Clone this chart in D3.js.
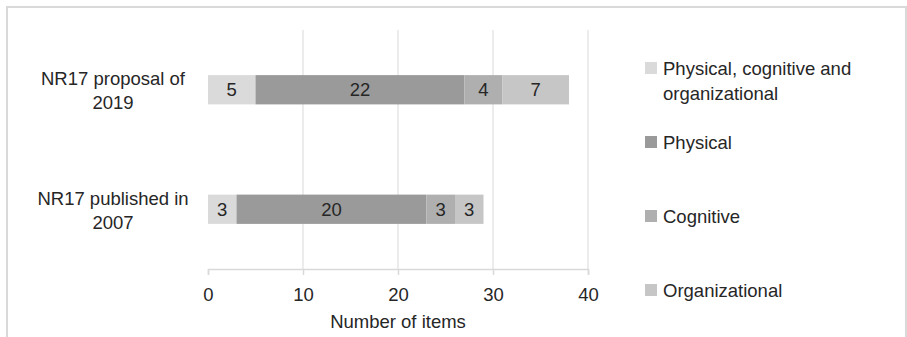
<!DOCTYPE html>
<html>
<head>
<meta charset="utf-8">
<script src="https://cdn.jsdelivr.net/npm/d3@7"></script>
<style>
  html, body { margin: 0; padding: 0; background: #fff; }
  svg { display: block; }
  text { font-family: "Liberation Sans", Arial, sans-serif; fill: #262626; }
</style>
</head>
<body>
<svg id="chart" width="907" height="337"></svg>
<script>
// ---- data ----
const categories = ["NR17 proposal of 2019", "NR17 published in 2007"];
const seriesNames = ["Physical, cognitive and organizational", "Physical", "Cognitive", "Organizational"];
const mixedValues = [5, 3];
const physicalValues = [22, 20];
const cognitiveValues = [4, 3];
const organizationalValues = [7, 3];
const xTicks = [0, 10, 20, 30, 40];
const xTitle = "Number of items";
const seriesColors = ["#dadada", "#9a9a9a", "#afafaf", "#c6c6c6"];

// ---- build ----
const rows = categories.map((c, i) => ({
  category: c,
  [seriesNames[0]]: mixedValues[i],
  [seriesNames[1]]: physicalValues[i],
  [seriesNames[2]]: cognitiveValues[i],
  [seriesNames[3]]: organizationalValues[i]
}));
const stacked = d3.stack().keys(seriesNames)(rows);

const svg = d3.select("#chart");
const FS = 18.5;

// outer frame
svg.append("rect")
  .attr("x", 7).attr("y", 7).attr("width", 899).attr("height", 340)
  .attr("fill", "none").attr("stroke", "#d9d9d9").attr("stroke-width", 2);

const x = d3.scaleLinear().domain([0, 40]).range([208, 588]);
const y = d3.scaleBand().domain(categories).range([30, 269]).padding(0);
const barH = y.bandwidth() * 0.245;
const color = d3.scaleOrdinal().domain(seriesNames).range(seriesColors);

// gridlines
svg.append("g").selectAll("line").data(xTicks.slice(1)).join("line")
  .attr("x1", d => x(d)).attr("x2", d => x(d))
  .attr("y1", 30).attr("y2", 269)
  .attr("stroke", "#d9d9d9").attr("stroke-width", 1);

// x axis
const xAxis = svg.append("g").attr("transform", "translate(0,269)")
  .call(d3.axisBottom(x).tickValues(xTicks).tickSize(6).tickPadding(13));
xAxis.select(".domain").attr("stroke", "#d9d9d9").attr("stroke-width", 1.5);
xAxis.selectAll(".tick line").attr("stroke", "#d9d9d9").attr("stroke-width", 1.5);
xAxis.selectAll(".tick text")
  .style("font-family", '"Liberation Sans", Arial, sans-serif')
  .style("font-size", FS + "px").attr("fill", "#262626");

// axis title
svg.append("text").attr("x", x(20)).attr("y", 328)
  .attr("text-anchor", "middle").style("font-size", FS + "px").text(xTitle);

// bars
const layers = svg.append("g").selectAll("g").data(stacked).join("g")
  .attr("fill", d => color(d.key));
layers.selectAll("rect").data(d => d).join("rect")
  .attr("x", d => x(d[0]))
  .attr("width", d => x(d[1]) - x(d[0]))
  .attr("y", d => y(d.data.category) + (y.bandwidth() - barH) / 2)
  .attr("height", barH);

// data labels
layers.selectAll("text").data(d => d).join("text")
  .attr("x", d => (x(d[0]) + x(d[1])) / 2)
  .attr("y", d => y(d.data.category) + y.bandwidth() / 2)
  .attr("dy", "0.36em")
  .attr("text-anchor", "middle")
  .style("font-size", FS + "px")
  .attr("fill", "#262626")
  .text(d => d[1] - d[0]);

// category labels (wrapped: last word on second line)
const catG = svg.append("g").selectAll("text").data(categories).join("text")
  .attr("text-anchor", "middle")
  .style("font-size", FS + "px");
catG.each(function(c) {
  const words = c.split(" ");
  const lines = [words.slice(0, -1).join(" "), words[words.length - 1]];
  const cy = y(c) + y.bandwidth() / 2;
  d3.select(this).selectAll("tspan").data(lines).join("tspan")
    .attr("x", 113)
    .attr("y", (d, i) => cy - 11 + i * 24)
    .attr("dy", "0.36em")
    .text(d => d);
});

// legend
const legendY = [68, 142, 216, 290];
const legendLines = [["Physical, cognitive and", "organizational"], ["Physical"], ["Cognitive"], ["Organizational"]];
const lg = svg.append("g").selectAll("g").data(seriesNames).join("g")
  .attr("transform", (d, i) => `translate(645,${legendY[i]})`);
lg.append("rect").attr("x", 0).attr("y", -6).attr("width", 12).attr("height", 12)
  .attr("fill", d => color(d));
lg.append("text").style("font-size", FS + "px")
  .selectAll("tspan").data((d, i) => legendLines[i]).join("tspan")
  .attr("x", 18).attr("y", (d, i) => i * 25).attr("dy", "0.36em")
  .text(d => d);
</script>
</body>
</html>
